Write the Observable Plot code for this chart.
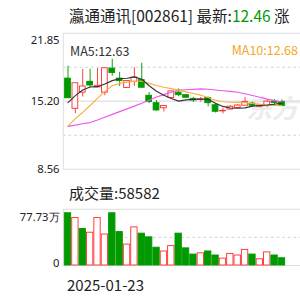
<!DOCTYPE html>
<html>
<head>
<meta charset="utf-8">
<script src="https://cdn.jsdelivr.net/npm/d3@7"></script>
<script src="https://cdn.jsdelivr.net/npm/@observablehq/plot@0.6"></script>
<style>
  html, body { margin: 0; padding: 0; background: #fff; }
  #wrap { position: relative; width: 300px; height: 300px; overflow: hidden; font-family: "Noto Sans CJK SC", "Noto Sans", sans-serif; color: #222; }
  .abs { position: absolute; white-space: nowrap; }
  #price, #vol { position: absolute; left: 0; }
  #price { top: 0; }
  #vol { top: 205px; }
</style>
</head>
<body>
<div id="wrap">
  <div class="abs" id="wm" style="left:246px; top:88px; font-size:26px; font-weight:bold; font-style:italic; color:#ececec;">东方</div>
  <div id="price"></div>
  <div id="vol"></div>
  <div class="abs" id="title" style="left:69px; top:4px; font-size:15.5px; line-height:22px;"></div>
  <div class="abs" id="ma5lab" style="left:70px; top:43px; font-size:12.5px; line-height:16px; color:#333;"></div>
  <div class="abs" id="ma10lab" style="right:2px; top:42px; font-size:12.5px; line-height:16px; color:#f5a623;"></div>
  <div class="abs" id="vollab" style="left:69px; top:183px; font-size:15px; line-height:20px;"></div>
  <div class="abs" id="datelab" style="left:67px; top:275px; font-size:15px; line-height:20px;"></div>
</div>
<script>
// ---- data ----
const stockName = "瀛通通讯";
const stockCode = "002861";
const latestPrice = "12.46";
const ma5Label = "MA5:12.63";
const ma10Label = "MA10:12.68";
const volumeLabel = "成交量:58582";
const firstDate = "2025-01-23";

const open  = [17.42,14.47,16.05,17.11,16.56,16.05,18.40,17.42,16.51,17.11,17.27,15.74,15.02,14.52,15.53,16.05,15.80,15.44,15.34,15.53,14.82,14.22,14.40,14.55,14.77,14.98,14.67,14.77,15.16,15.13];
const close = [15.50,16.97,16.65,16.75,16.72,18.43,17.97,17.18,17.18,17.52,16.53,15.13,14.31,14.75,16.17,15.80,15.55,15.28,15.39,15.02,14.18,14.27,14.67,14.79,15.13,14.77,14.79,15.16,15.02,14.75];
const high  = [18.64,16.99,18.32,18.34,18.40,18.46,19.31,18.03,17.22,18.49,18.92,16.05,15.28,14.77,16.21,16.42,15.89,15.59,15.59,15.62,14.98,14.52,14.79,14.89,15.57,15.11,14.89,15.34,15.37,15.34];
const low   = [15.48,14.00,15.62,16.51,16.53,15.74,17.66,16.65,16.49,16.65,16.49,14.98,14.22,14.15,15.50,15.65,15.48,15.10,15.13,14.67,14.06,13.97,14.34,14.52,14.75,14.61,14.56,14.61,14.88,14.70];

const ma5  = [15.07,15.76,16.31,16.60,16.63,16.90,17.22,17.41,17.45,17.59,17.36,16.72,16.19,15.80,15.48,15.22,15.34,15.39,15.42,15.39,15.00,14.70,14.55,14.52,14.56,14.73,14.79,14.84,14.91,15.02];
const ma10 = [12.78,13.51,14.11,14.79,15.48,16.17,16.72,16.95,17.08,17.15,17.18,16.95,16.75,16.58,16.44,16.29,16.12,15.96,15.80,15.57,15.30,15.16,15.11,15.09,15.07,14.99,14.90,14.82,14.79,14.77];
const ma20 = [12.75,12.87,13.01,13.12,13.37,13.65,13.92,14.19,14.46,14.73,15.00,15.30,15.62,15.85,16.08,16.29,16.33,16.37,16.41,16.38,16.30,16.23,16.17,16.09,15.94,15.77,15.59,15.41,15.27,15.13];

// volume in 万 (10k shares); volUp: 1 = red (up), 0 = green (down)
const volume = [72.2,65.7,50.5,45.3,65.7,42.8,72.2,46.2,28.9,52.7,44.0,38.9,24.6,19.4,26.8,44.0,23.7,15.1,16.8,19.4,13.8,9.5,16.0,13.8,21.6,15.1,8.6,18.1,13.8,10.0];
const volUp  = [0,1,0,1,1,1,0,0,1,1,0,0,0,1,1,0,0,0,1,0,0,1,1,1,1,0,1,1,0,0];

const priceTicks = [21.85, 15.20, 8.56];
const priceDashed = [18.53, 11.88];
const volMax = 77.73;
const volTickLabels = ["77.73万", "0"];

// ---- build tables ----
const candles = open.map((o, k) => ({i: k + 1, o, c: close[k], h: high[k], l: low[k], up: close[k] >= o}));
const vols = volume.map((v, k) => ({i: k + 1, v, up: volUp[k] === 1}));
const lineRows = (arr) => arr.map((v, k) => ({i: k + 1, v}));

const RED = "#ff3333", GREEN = "#009a00";
const W = 320, ML = 67;
const step = 7.87;
const x0 = 1 - 5 / step;
const xScale = {type: "linear", domain: [x0, x0 + (W - ML) / step], range: [ML, W]};
const half = 0.39, vhalf = 0.43;

// ---- price panel ----
const price = Plot.plot({
  width: W, height: 182,
  marginTop: 35, marginBottom: 2, marginLeft: ML, marginRight: 0,
  x: {...xScale, axis: null},
  y: {domain: [priceTicks[2], priceTicks[0]], axis: null},
  style: {background: "transparent", overflow: "visible"},
  marks: [
    Plot.ruleY(priceDashed, {stroke: "#cfcfcf", strokeDasharray: "3,3"}),
    Plot.ruleY([priceTicks[1]], {stroke: "#e4e4e4", strokeWidth: 1.5}),
    Plot.frame({stroke: "#dcdcdc"}),
    Plot.ruleX(candles, {x: "i", y1: "l", y2: "h", stroke: d => d.up ? RED : GREEN, strokeWidth: 1}),
    Plot.rect(candles, {x1: d => d.i - half, x2: d => d.i + half, y1: "o", y2: "c",
      fill: d => d.up ? "#ffffff" : GREEN, stroke: d => d.up ? RED : GREEN, strokeWidth: 1}),
    Plot.line(lineRows(ma20), {x: "i", y: "v", stroke: "#ee55ee", strokeWidth: 1.2}),
    Plot.line(lineRows(ma10), {x: "i", y: "v", stroke: "#f7b040", strokeWidth: 1.2}),
    Plot.line(lineRows(ma5), {x: "i", y: "v", stroke: "#333333", strokeWidth: 1.2}),
    Plot.text([priceTicks[0]], {y: d => d, text: d => d.toFixed(2), frameAnchor: "left", textAnchor: "end", lineAnchor: "top", dx: -4, dy: 3, fontSize: 12, fill: "#222"}),
    Plot.text([priceTicks[1]], {y: d => d, text: d => d.toFixed(2), frameAnchor: "left", textAnchor: "end", lineAnchor: "middle", dx: -4, fontSize: 12, fill: "#222"}),
    Plot.text([priceTicks[2]], {y: d => d, text: d => d.toFixed(2), frameAnchor: "left", textAnchor: "end", lineAnchor: "bottom", dx: -4, dy: 4, fontSize: 12, fill: "#222"})
  ]
});
document.getElementById("price").appendChild(price);

// ---- volume panel ----
const vol = Plot.plot({
  width: W, height: 66,
  marginTop: 4, marginBottom: 2, marginLeft: ML, marginRight: 0,
  x: {...xScale, axis: null},
  y: {domain: [0, volMax], axis: null},
  style: {background: "transparent", overflow: "visible"},
  marks: [
    Plot.ruleY([volMax / 2], {stroke: "#cfcfcf", strokeDasharray: "3,3"}),
    Plot.frame({stroke: "#dcdcdc"}),
    Plot.rect(vols, {x1: d => d.i - vhalf, x2: d => d.i + vhalf, y1: 0, y2: "v",
      fill: d => d.up ? "#ffffff" : GREEN, stroke: d => d.up ? RED : GREEN, strokeWidth: 1}),
    Plot.text([volMax], {y: d => d, text: () => volTickLabels[0], frameAnchor: "left", textAnchor: "end", lineAnchor: "top", dx: -4, dy: 4, fontSize: 12, fill: "#222"}),
    Plot.text([0], {y: d => d, text: () => volTickLabels[1], frameAnchor: "left", textAnchor: "end", lineAnchor: "bottom", dx: -4, dy: 2, fontSize: 12, fill: "#222"})
  ]
});
document.getElementById("vol").appendChild(vol);

// ---- text ----
document.getElementById("title").innerHTML =
  `${stockName}[${stockCode}] 最新:<span style="color:${GREEN}">${latestPrice}</span> 涨`;
document.getElementById("ma5lab").textContent = ma5Label;
document.getElementById("ma10lab").textContent = ma10Label;
document.getElementById("vollab").textContent = volumeLabel;
document.getElementById("datelab").textContent = firstDate;
</script>
</body>
</html>
